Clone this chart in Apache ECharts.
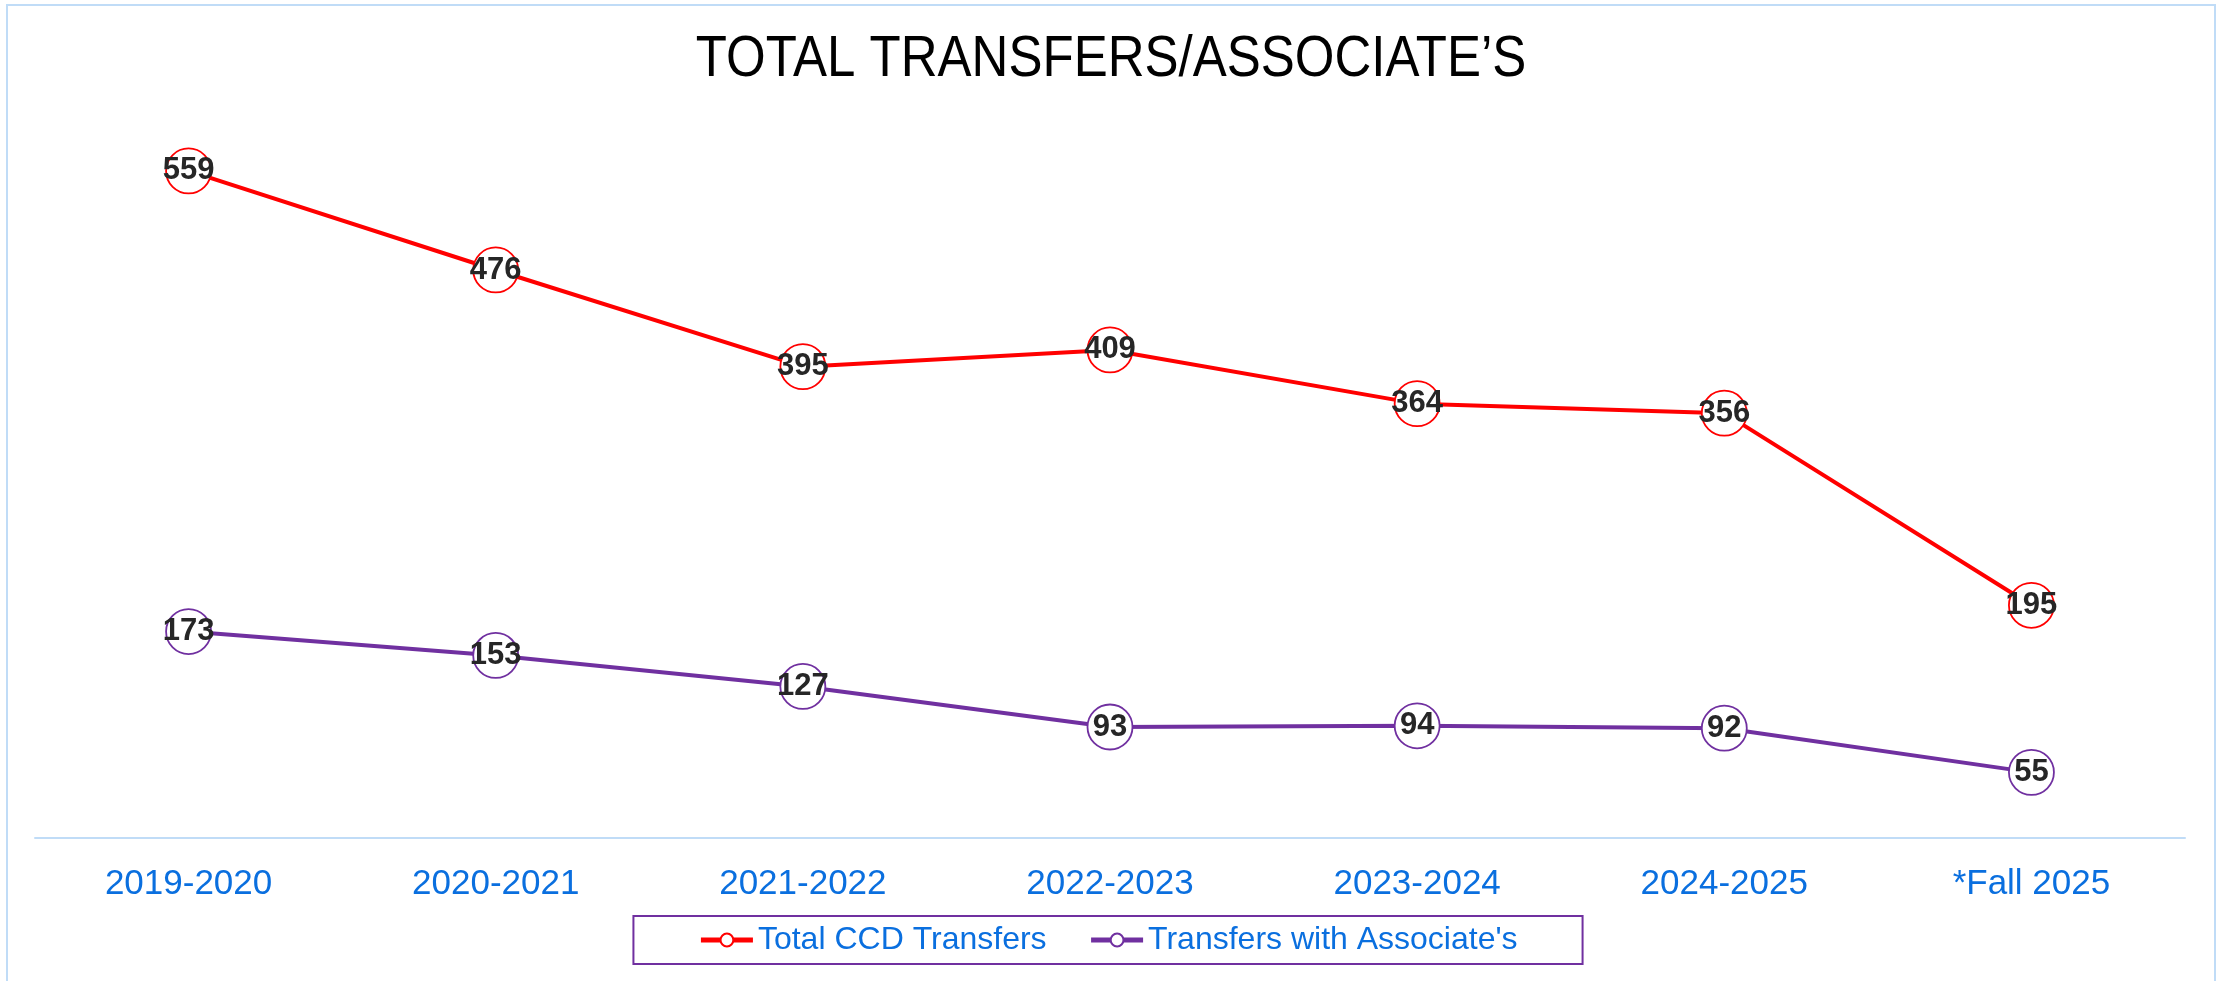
<!DOCTYPE html>
<html>
<head>
<meta charset="utf-8">
<script src="https://cdn.jsdelivr.net/npm/echarts@6/dist/echarts.min.js"></script>
<style>
html,body{margin:0;padding:0;background:#fff;}
#chart{width:2216px;height:981px;}
</style>
</head>
<body>
<div id="chart"></div>
<script>
const categories = ['2019-2020','2020-2021','2021-2022','2022-2023','2023-2024','2024-2025','*Fall 2025'];
const totalTransfers = [559, 476, 395, 409, 364, 356, 195];
const associateTransfers = [173, 153, 127, 93, 94, 92, 55];
const seriesNames = ['Total CCD Transfers', "Transfers with Associate's"];
const titleText = 'TOTAL TRANSFERS/ASSOCIATE\u2019S';

const chart = echarts.init(document.getElementById('chart'));
function mkSeries(name, data, color) {
  return {
    name: name,
    type: 'line',
    data: data,
    symbol: 'circle',
    symbolSize: 45,
    lineStyle: { color: color, width: 4 },
    itemStyle: { color: '#ffffff', borderColor: color, borderWidth: 1.8 },
    label: {
      show: true, position: 'inside',
      fontFamily: 'Liberation Sans, Arial, sans-serif',
      fontWeight: 'bold', fontSize: 31, color: '#262626'
    },
    emphasis: { disabled: true },
    z: 3
  };
}
chart.setOption({
  animation: false,
  backgroundColor: '#ffffff',
  legend: {
    data: seriesNames,
    left: 'center',
    top: 916,
    itemWidth: 52,
    itemHeight: 16,
    itemGap: 42,
    padding: [8, 65],
    borderColor: '#7030a0',
    borderWidth: 2,
    lineStyle: { width: 5 },
    textStyle: {
      fontFamily: 'Liberation Sans, Arial, sans-serif',
      fontSize: 32, color: '#0a6fdf'
    }
  },
  grid: { left: 35, right: 31, top: 122, bottom: 143, containLabel: false },
  xAxis: {
    type: 'category',
    data: categories,
    boundaryGap: true,
    axisLine: { show: true, lineStyle: { color: '#c0dcf7', width: 2 } },
    axisTick: { show: false },
    axisLabel: {
      margin: 29,
      fontFamily: 'Liberation Sans, Arial, sans-serif',
      fontSize: 35, color: '#0a6fdf'
    },
    splitLine: { show: false }
  },
  yAxis: {
    type: 'value',
    min: 0, max: 600, interval: 100,
    show: false,
    splitLine: { show: false }
  },
  graphic: [{
    type: 'rect',
    shape: { x: 7, y: 5, width: 2208, height: 980 },
    style: { fill: null, stroke: '#c0dcf7', lineWidth: 2 },
    silent: true, z: -1
  }, {
    type: 'text',
    x: 1111, y: 60,
    scaleX: 0.895,
    style: {
      text: titleText,
      fontFamily: 'Liberation Sans, Arial, sans-serif',
      fontSize: 57, fill: '#000000',
      align: 'center', verticalAlign: 'middle'
    },
    silent: true
  }],
  series: [
    mkSeries(seriesNames[0], totalTransfers, '#ff0000'),
    mkSeries(seriesNames[1], associateTransfers, '#7030a0')
  ]
});
</script>
</body>
</html>
